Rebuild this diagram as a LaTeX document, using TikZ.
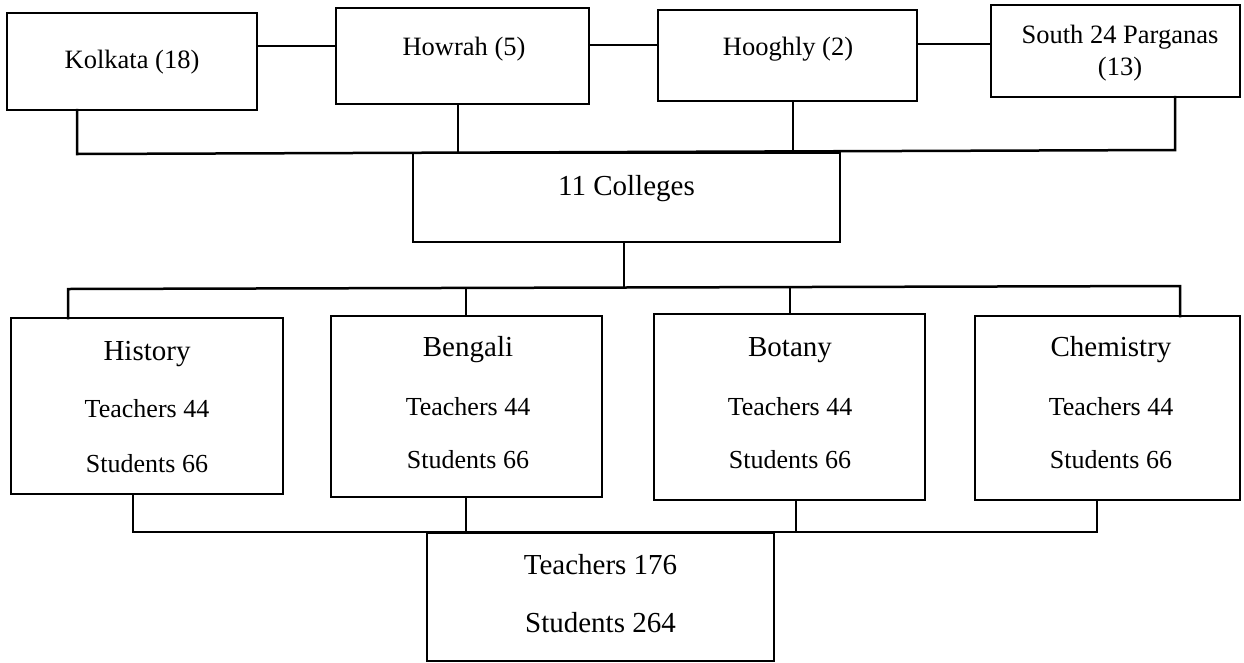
\documentclass[tikz,border=0pt]{standalone}
\usepackage{fontspec}
\setmainfont{Liberation Serif}
\begin{document}
\begin{tikzpicture}[x=1pt,y=-1pt,
  box/.style={draw=black,line width=2.5pt,inner sep=0pt,outer sep=0pt},
  conn/.style={draw=black,line width=2.5pt,line cap=rect},
  txt/.style={anchor=base,inner sep=0pt,font=\fontsize{26.5}{30}\selectfont},
  small/.style={anchor=base,inner sep=0pt,font=\fontsize{26}{30}\selectfont},
  big/.style={anchor=base,inner sep=0pt,font=\fontsize{29}{33}\selectfont}]
\useasboundingbox (0,0) rectangle (1244,662);
% top boxes
\node[box,minimum width=250pt,minimum height=97pt] (kol) at (132,61.5) {};
\node[box,minimum width=253pt,minimum height=96pt] (how) at (462.5,56) {};
\node[box,minimum width=259pt,minimum height=91pt] (hoo) at (787.5,55.5) {};
\node[box,minimum width=249pt,minimum height=92pt] (s24) at (1115.5,51) {};
\node[txt] (tkol) at (132,68) {Kolkata (18)};
\node[txt] (thow) at (464,55) {Howrah (5)};
\node[txt] (thoo) at (788,55) {Hooghly (2)};
\node[txt] (ts24a) at (1120,43) {South 24 Parganas};
\node[txt] (ts24b) at (1120,75) {(13)};
% colleges
\node[box,minimum width=427pt,minimum height=89pt] (col) at (626.5,197.5) {};
\node[big] (tcol) at (626.5,195) {11 Colleges};
% departments
\node[box,minimum width=272pt,minimum height=176pt] (his) at (147,406) {};
\node[box,minimum width=271pt,minimum height=181pt] (ben) at (466.5,406.5) {};
\node[box,minimum width=271pt,minimum height=186pt] (bot) at (789.5,407) {};
\node[box,minimum width=265pt,minimum height=184pt] (che) at (1107.5,408) {};
\node[big] (this) at (147,360) {History};
\node[small] (this2) at (147,417) {Teachers 44};
\node[small] (this3) at (147,472) {Students 66};
\node[big] (tben) at (468,356) {Bengali};
\node[small] (tben2) at (468,415) {Teachers 44};
\node[small] (tben3) at (468,468) {Students 66};
\node[big] (tbot) at (790,356) {Botany};
\node[small] (tbot2) at (790,415) {Teachers 44};
\node[small] (tbot3) at (790,468) {Students 66};
\node[big] (tche) at (1111,356) {Chemistry};
\node[small] (tche2) at (1111,415) {Teachers 44};
\node[small] (tche3) at (1111,468) {Students 66};
% bottom
\node[box,minimum width=347pt,minimum height=128pt] (tot) at (600.5,597) {};
\node[big] (ttot1) at (600.5,574) {Teachers 176};
\node[big] (ttot2) at (600.5,632) {Students 264};
% connector coordinates
\coordinate (l1) at (0,46);
\coordinate (l2) at (0,45);
\coordinate (l3) at (0,44);
\coordinate (bk) at (77,154);
\coordinate (bh) at (458,152.6);
\coordinate (bg) at (793,151.4);
\coordinate (bs) at (1175,150);
\coordinate (c0) at (624,288);
\coordinate (d1) at (68,289);
\coordinate (d2) at (466,288);
\coordinate (d3) at (790,287);
\coordinate (d4) at (1180,286);
\coordinate (e1) at (133,532);
\coordinate (e2) at (466,532);
\coordinate (e3) at (796,532);
\coordinate (e4) at (1097,532);
% connectors
\draw[conn] (kol.east |- l1) -- (how.west |- l1);
\draw[conn] (how.east |- l2) -- (hoo.west |- l2);
\draw[conn] (hoo.east |- l3) -- (s24.west |- l3);
\draw[conn] (kol.south -| bk) -- (bk) -- (bs) -- (s24.south -| bs);
\draw[conn] (how.south -| bh) -- (bh);
\draw[conn] (hoo.south -| bg) -- (bg);
\draw[conn] (col.south -| c0) -- (c0);
\draw[conn] (his.north -| d1) -- (d1) -- (d4) -- (che.north -| d4);
\draw[conn] (d2) -- (ben.north -| d2);
\draw[conn] (d3) -- (bot.north -| d3);
\draw[conn] (his.south -| e1) -- (e1) -- (e4) -- (che.south -| e4);
\draw[conn] (ben.south -| e2) -- (e2);
\draw[conn] (bot.south -| e3) -- (e3);
\end{tikzpicture}
\end{document}
